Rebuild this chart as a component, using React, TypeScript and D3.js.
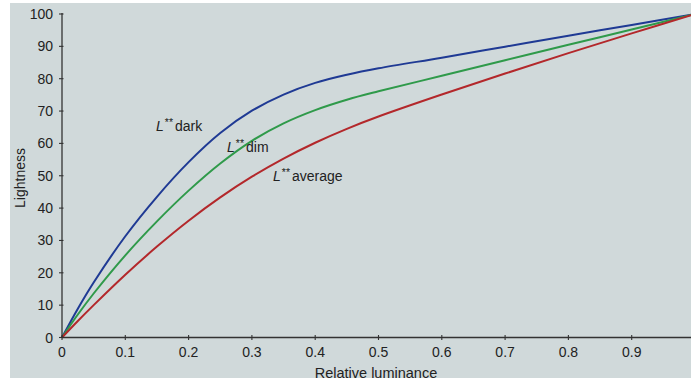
import React from "react";
import * as d3 from "d3";

const luminance = [0, 0.025, 0.05, 0.1, 0.15, 0.2, 0.25, 0.3, 0.35, 0.4, 0.45, 0.5, 0.6, 0.7, 0.8, 0.9, 1];
const darkL = [0, 8.9, 17.0, 31.3, 43.5, 54.2, 63.2, 70.1, 75.1, 78.7, 81.2, 83.2, 86.5, 89.9, 93.3, 96.6, 100];
const dimL = [0, 7.1, 13.6, 25.4, 35.9, 45.4, 53.8, 60.8, 66.2, 70.3, 73.5, 76.1, 80.9, 85.7, 90.5, 95.2, 100];
const averageL = [0, 5.1, 10.0, 19.4, 28.1, 36.1, 43.3, 49.7, 55.3, 60.2, 64.5, 68.3, 75.1, 81.6, 87.9, 94.0, 100];

const xTicks = [0, 0.1, 0.2, 0.3, 0.4, 0.5, 0.6, 0.7, 0.8, 0.9];
const yTicks = [0, 10, 20, 30, 40, 50, 60, 70, 80, 90, 100];

const series = [
  { name: "dark", values: darkL, color: "#1f3a94" },
  { name: "dim", values: dimL, color: "#2f9a4a" },
  { name: "average", values: averageL, color: "#b3282b" },
];

const W = 691;
const H = 381;
const FONT = "'Liberation Sans', Arial, Helvetica, sans-serif";

export default function App() {
  const x = d3.scaleLinear().domain([0, 1]).range([62, 695]);
  const y = d3.scaleLinear().domain([0, 100]).range([337.5, 14]);
  const line = (vals: number[]) =>
    d3
      .line<number>()
      .x((_, i) => x(luminance[i]))
      .y((v) => y(v))
      .curve(d3.curveCatmullRom.alpha(0.5))(vals) as string;

  const labels = [
    { text: "dark", x: 156, y: 130.5 },
    { text: "dim", x: 227, y: 152 },
    { text: "average", x: 273, y: 180.5 },
  ];

  return (
    <svg
      width={W}
      height={H}
      style={{ position: "absolute", left: 0, top: 0 }}
      fontFamily={FONT}
    >
      <rect x={0} y={0} width={W} height={H} fill="#ffffff" />
      <rect x={10} y={3} width={W - 10} height={375} fill="#d0d9da" />

      {series.map((s) => (
        <path key={s.name} d={line(s.values)} fill="none" stroke={s.color} strokeWidth={2} />
      ))}

      {/* axes */}
      <line x1={x(0)} x2={W} y1={y(0)} y2={y(0)} stroke="#333" strokeWidth={1.3} />
      <line x1={x(0)} x2={x(0)} y1={y(0)} y2={y(100) - 1} stroke="#333" strokeWidth={1.3} />

      {xTicks.map((t) => (
        <g key={"x" + t}>
          <line x1={x(t)} x2={x(t)} y1={y(0) - 2.5} y2={y(0) + 2.5} stroke="#333" strokeWidth={1.1} />
          <text x={x(t)} y={357} textAnchor="middle" fontSize={14} fill="#222">
            {t === 0 ? "0" : t.toFixed(1)}
          </text>
        </g>
      ))}
      {yTicks.map((t) => (
        <g key={"y" + t}>
          <line x1={x(0) - 3} x2={x(0) + 1.5} y1={y(t)} y2={y(t)} stroke="#333" strokeWidth={1.1} />
          <text x={53} y={y(t) + 5} textAnchor="end" fontSize={14} fill="#222">
            {t}
          </text>
        </g>
      ))}

      <text x={376} y={378} textAnchor="middle" fontSize={14.5} fill="#222">
        Relative luminance
      </text>
      <text
        transform={`translate(25,178) rotate(-90)`}
        textAnchor="middle"
        fontSize={14}
        fill="#222"
      >
        Lightness
      </text>

      {labels.map((l) => (
        <text key={l.text} x={l.x} y={l.y} fontSize={14} fill="#222">
          <tspan fontStyle="italic">L</tspan>
          <tspan fontSize={10.5} dy={-5} dx={1}>**</tspan>
          <tspan dy={5} dx={2}>{l.text}</tspan>
        </text>
      ))}
    </svg>
  );
}
